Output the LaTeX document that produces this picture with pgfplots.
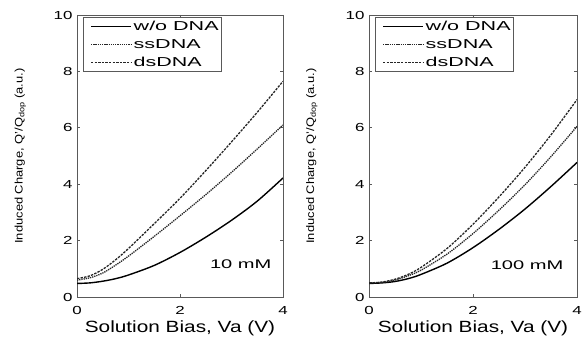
\documentclass[border=0pt]{standalone}
\usepackage{pgfplots}
\pgfplotsset{compat=1.18}
\usepackage{fontspec}
\setmainfont{Liberation Sans}
\usepackage{graphicx}
\newcommand{\hs}[2]{\scalebox{#1}[1]{#2}}
\newcommand{\legtxt}[2]{{\fontsize{13}{15.6}\selectfont\resizebox{#1}{\height}{#2}}}
\pgfplotsset{
 myax/.style={
  scale only axis, width=206bp, height=282bp,
  xmin=0, xmax=4, ymin=0, ymax=10,
  xtick={0,2,4}, ytick={0,2,4,6,8,10},
  xticklabels={\hs{1.45}{0},\hs{1.45}{2},\hs{1.45}{4}},
  yticklabels={\hs{1.45}{0},\hs{1.45}{2},\hs{1.45}{4},\hs{1.45}{6},\hs{1.45}{8},\hs{1.45}{10}},
  tick align=inside, major tick length=3bp,
  axis line style={black!65, line width=0.6bp}, tick style={black!65, line width=0.6bp},
  ticklabel style={font=\fontsize{11.7}{12}\selectfont},
  xticklabel style={yshift=-6bp},
  yticklabel style={xshift=-1bp},
  xlabel={\hs{1.28}{Solution Bias, Va (V)}},
  xlabel style={font=\fontsize{16.3}{18}\selectfont, at={(axis description cs:0.5,-0.11)}, anchor=center},
  ylabel={\hs{1.18}{Induced Charge, Q'/Q\textsubscript{dop} (a.u.)}},
  ylabel style={font=\fontsize{11}{12}\selectfont, at={(axis description cs:-0.275,0.5)}, anchor=center},
  legend cell align=left,
  legend image code/.code={\path (-6bp,0bp); \draw[##1] (0bp,0bp) -- (40bp,0bp);},
  legend style={at={(axis description cs:0,1)}, anchor=north west, xshift=6bp, yshift=-2bp,
    draw=black!65, line width=0.6bp, inner xsep=1bp, inner ysep=1.5bp, row sep=3.5bp,
    nodes={inner sep=2bp}},
 },
 wo/.style={black, line width=1.4bp},
 ss/.style={black!85, line width=1.3bp, dash pattern=on 1.3bp off 0.9bp},
 ds/.style={black!85, line width=1.3bp, dash pattern=on 2.4bp off 1.2bp},
}
\begin{document}
\begin{tikzpicture}
\useasboundingbox (0,0) rectangle (582bp,337bp);
\begin{axis}[myax, at={(77bp,40bp)}, anchor=south west]
\addplot[wo, smooth] coordinates {(0,0.48)(0.25,0.5)(0.5,0.56)(0.75,0.65)(1,0.78)(1.5,1.12)(2,1.58)(2.5,2.12)(3,2.72)(3.5,3.4)(4,4.22)};
\addlegendentry{\legtxt{85bp}{w/o DNA}}
\addplot[ss, smooth] coordinates {(0,0.6)(0.25,0.68)(0.5,0.85)(0.75,1.13)(1,1.45)(1.5,2.15)(2,2.88)(2.5,3.63)(3,4.42)(3.5,5.25)(4,6.1)};
\addlegendentry{\legtxt{67bp}{ssDNA}}
\addplot[ds, smooth] coordinates {(0,0.65)(0.25,0.75)(0.5,0.98)(0.75,1.32)(1,1.72)(1.5,2.6)(2,3.5)(2.5,4.48)(3,5.5)(3.5,6.55)(4,7.65)};
\addlegendentry{\legtxt{68bp}{dsDNA}}
\node[font=\fontsize{12.6}{14}\selectfont] at (axis cs:3.18,1.17) {\hs{1.6}{10 mM}};
\end{axis}
\begin{axis}[myax, at={(369bp,40bp)}, anchor=south west, width=208bp]
\addplot[wo, smooth] coordinates {(0,0.48)(0.25,0.5)(0.5,0.55)(0.75,0.65)(1,0.8)(1.5,1.2)(2,1.75)(2.5,2.4)(3,3.12)(3.5,3.92)(4,4.77)};
\addlegendentry{\legtxt{85bp}{w/o DNA}}
\addplot[ss, smooth] coordinates {(0,0.5)(0.25,0.52)(0.5,0.6)(0.75,0.75)(1,0.95)(1.5,1.52)(2,2.25)(2.5,3.08)(3,3.98)(3.5,4.98)(4,6.05)};
\addlegendentry{\legtxt{67bp}{ssDNA}}
\addplot[ds, smooth] coordinates {(0,0.5)(0.25,0.53)(0.5,0.63)(0.75,0.8)(1,1.05)(1.5,1.72)(2,2.58)(2.5,3.55)(3,4.6)(3.5,5.75)(4,7.0)};
\addlegendentry{\legtxt{68bp}{dsDNA}}
\node[font=\fontsize{12.6}{14}\selectfont] at (axis cs:3.04,1.13) {\hs{1.6}{100 mM}};
\end{axis}
\end{tikzpicture}
\end{document}
